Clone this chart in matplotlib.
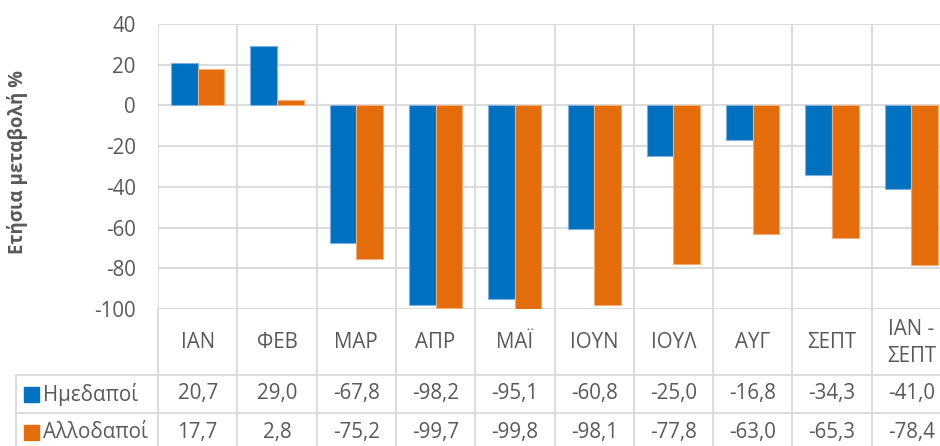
import matplotlib
matplotlib.use("Agg")
import matplotlib.pyplot as plt
from matplotlib.patches import Rectangle
from matplotlib.transforms import blended_transform_factory
import numpy as np

categories = ["ΙΑΝ", "ΦΕΒ", "ΜΑΡ", "ΑΠΡ", "ΜΑΪ", "ΙΟΥΝ", "ΙΟΥΛ", "ΑΥΓ", "ΣΕΠΤ", "ΙΑΝ -\nΣΕΠΤ"]
series_names = ["Ημεδαποί", "Αλλοδαποί"]
domestic = [20.7, 29.0, -67.8, -98.2, -95.1, -60.8, -25.0, -16.8, -34.3, -41.0]
foreign = [17.7, 2.8, -75.2, -99.7, -99.8, -98.1, -77.8, -63.0, -65.3, -78.4]
yticks = [40, 20, 0, -20, -40, -60, -80, -100]
ylabel = "Ετήσια μεταβολή %"

colors = ["#0070C0", "#E46C0A"]
edges = ["#7FB2E0", "#F2AE77"]
grid_c = "#D9D9D9"
text_c = "#595959"
FONT = "Open Sans"
FS = 14.8

W, H = 940, 446
fig = plt.figure(figsize=(W / 100, H / 100), dpi=100)

x0, x1 = 158, 951
y_top, y_bot = 24, 309
ax = fig.add_axes([x0 / W, 1 - y_bot / H, (x1 - x0) / W, (y_bot - y_top) / H])
n = len(categories)
x = np.arange(n)
bw = 0.335
ax.bar(x - bw / 2, domestic, bw, color=colors[0], edgecolor=edges[0], linewidth=0.8, zorder=3)
ax.bar(x + bw / 2, foreign, bw, color=colors[1], edgecolor=edges[1], linewidth=0.8, zorder=3)
ax.set_xlim(-0.5, n - 0.5)
ax.set_ylim(-100, 40)
ax.set_yticks(yticks)
ax.set_yticklabels([str(t) for t in yticks], fontsize=FS, color=text_c, family=FONT)
ax.tick_params(axis="y", length=0, pad=16)
ax.set_xticks([])
for s in ax.spines.values():
    s.set_visible(False)
for t in yticks:
    ax.axhline(t, color=grid_c, lw=1.3, zorder=1)
for b in np.arange(-0.5, n, 1.0):
    ax.axvline(b, color=grid_c, lw=1.3, zorder=1)

fig.text(18 / W, 1 - 162 / H, ylabel, rotation=90, ha="center", va="center",
         fontsize=13.4, fontweight="bold", color=text_c, family=FONT)

tr = blended_transform_factory(ax.transData, fig.transFigure)
def fy(py):
    return 1 - py / H

row1 = (375, 413)
row2 = (413, 452)
lw = 1.3
for b in np.arange(-0.5, n, 1.0):
    ax.plot([b, b], [fy(309), fy(460)], color=grid_c, lw=lw, transform=tr, clip_on=False)
fig.add_artist(plt.Line2D([16 / W, 1.02], [fy(375), fy(375)], color=grid_c, lw=lw))
fig.add_artist(plt.Line2D([16 / W, 1.02], [fy(413), fy(413)], color=grid_c, lw=lw))
fig.add_artist(plt.Line2D([16 / W, 16 / W], [fy(375), fy(460)], color=grid_c, lw=lw))

def mid(r):
    return fy((r[0] + r[1]) / 2)

for i, c in enumerate(categories):
    ax.text(i, fy(343), c, transform=tr, ha="center", va="center", fontsize=FS,
            color=text_c, family=FONT, linespacing=1.35, clip_on=False)
    ax.text(i, mid(row1), f"{domestic[i]:.1f}".replace(".", ","), transform=tr, ha="center",
            va="center", fontsize=FS, color=text_c, family=FONT, clip_on=False)
    ax.text(i, mid(row2), f"{foreign[i]:.1f}".replace(".", ","), transform=tr, ha="center",
            va="center", fontsize=FS, color=text_c, family=FONT, clip_on=False)

for r, name, col in [(row1, series_names[0], colors[0]), (row2, series_names[1], colors[1])]:
    cy = (r[0] + r[1]) / 2
    fig.add_artist(Rectangle((24 / W, fy(cy + 7.5)), 15 / W, 15 / H, color=col, transform=fig.transFigure))
    fig.text(43 / W, mid(r), name, ha="left", va="center", fontsize=FS, color=text_c, family=FONT)

fig.savefig("out.png", dpi=100)
